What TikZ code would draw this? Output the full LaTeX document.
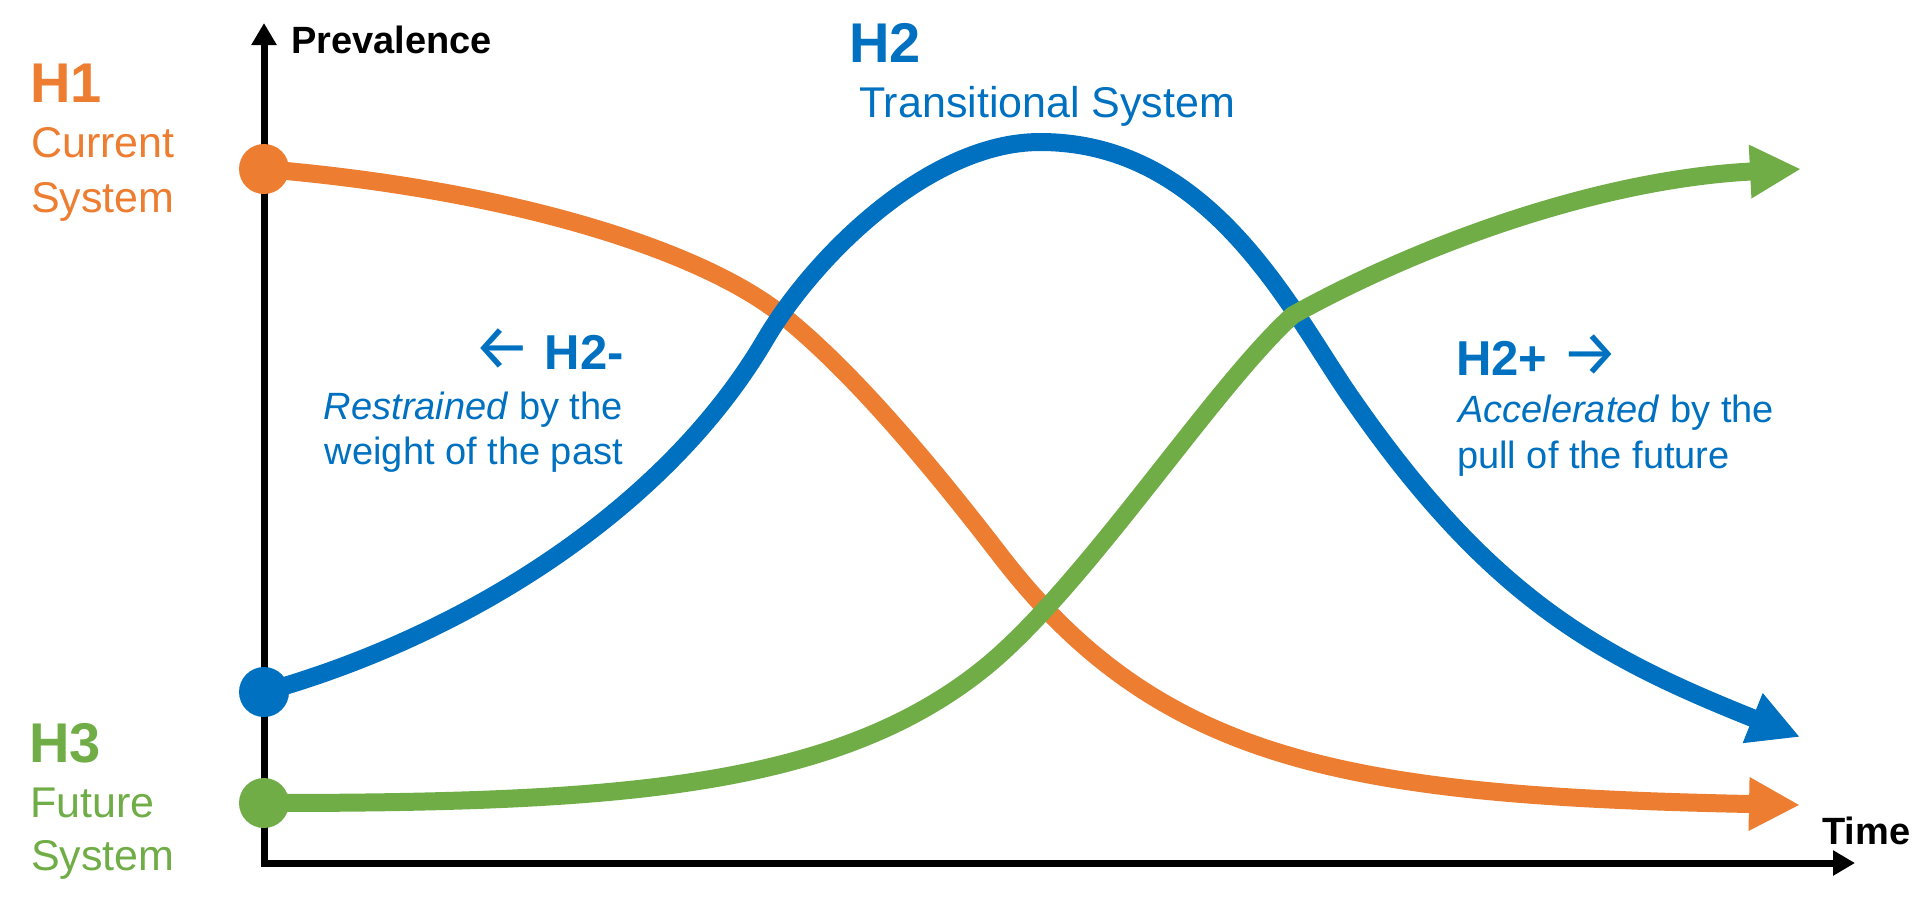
\documentclass[tikz,border=0pt]{standalone}
\usepackage{fontspec}
\setmainfont{Liberation Sans}
\newfontfamily\arrowfont{Fira Sans}
\usetikzlibrary{arrows.meta}
\definecolor{hOrange}{HTML}{ED7D31}\definecolor{hBlue}{HTML}{0070C0}\definecolor{hGreen}{HTML}{70AD47}
\newcommand\htitle{\fontsize{56}{60}\selectfont\bfseries}
\newcommand\hsub{\fontsize{43}{50}\selectfont}
\newcommand\axlbl{\fontsize{38}{44}\selectfont\bfseries}
\newcommand\hmid{\fontsize{49}{56}\selectfont\bfseries}
\newcommand\hbody{\fontsize{38}{46}\selectfont}
\newcommand\harr[1]{{\arrowfont\mdseries\fontsize{64}{64}\selectfont#1}}
\begin{document}
\begin{tikzpicture}[x=1pt,y=-1pt,
 lbl/.style={inner sep=0pt,anchor=base west},
 rlbl/.style={inner sep=0pt,anchor=base east},
 dot/.style={circle,fill,inner sep=0pt,minimum size=50pt},
 curve/.style={line width=18pt,-{Triangle[length=51pt,width=50pt]}}]
\useasboundingbox(0,0)rectangle(1926,898);
% axes
\coordinate(O)at(264,863);\coordinate(ytip)at(264,23);\coordinate(xtip)at(1855,863);
\draw[line width=7pt,{Triangle[length=22pt,width=24pt]}-{Triangle[length=22pt,width=24pt]}](ytip)--(O)--(xtip);
\node[lbl,font=\axlbl](prev)at(291,53){Prevalence};\node[lbl,font=\axlbl](time)at(1822,844){Time};
% start dots and arrow ends
\node[dot,hOrange](h1dot)at(264,169){};\node[dot,hBlue](h2dot)at(264,692){};\node[dot,hGreen](h3dot)at(264,803){};
\coordinate(h1end)at(1800,805);\coordinate(h2end)at(1800,737);\coordinate(h3end)at(1801,169);
% curves
\draw[curve,hOrange](h1dot.center)..controls(514,190)and(702,251)..(782,315)..controls(852,371)and(930,464)..(1000,555)
 ..controls(1160,763)and(1350,796)..(h1end);
\draw[curve,hBlue](h2dot.center)..controls(464,636)and(665,510)..(765,340)..controls(815,255)and(930,142)..(1040,142)
 ..controls(1210,142)and(1290,309)..(1350,396)..controls(1490,599)and(1600,657)..(h2end);
\draw[curve,hGreen](h3dot.center)..controls(614,803)and(833,789)..(983,669)..controls(1083,589)and(1213,387)..(1293,315)
 ..controls(1423,243)and(1601,179)..(h3end);
% horizon labels
\node[lbl,hOrange,font=\htitle](h1)at(30,102){H1};
\node[lbl,hOrange,font=\hsub](h1a)at(31,157){Current};\node[lbl,hOrange,font=\hsub](h1b)at(31,212){System};
\node[lbl,hBlue,font=\htitle](h2)at(849,62){H2};\node[lbl,hBlue,font=\hsub](h2a)at(859,117){Transitional System};
\node[lbl,hGreen,font=\htitle](h3)at(29,762){H3};
\node[lbl,hGreen,font=\hsub](h3a)at(30,817){Future};\node[lbl,hGreen,font=\hsub](h3b)at(31,870){System};
\node[rlbl,hBlue,font=\hmid](h2m)at(624,369){\harr{←} H2-};
\node[rlbl,hBlue,font=\hbody](h2ma)at(623,419){\textit{Restrained} by the};
\node[rlbl,hBlue,font=\hbody](h2mb)at(623,464){weight of the past};
\node[lbl,hBlue,font=\hmid](h2p)at(1456,375){H2+ \harr{→}};
\node[lbl,hBlue,font=\hbody](h2pa)at(1458,422){\textit{Accelerated} by the};
\node[lbl,hBlue,font=\hbody](h2pb)at(1457,468){pull of the future};
\end{tikzpicture}
\end{document}
